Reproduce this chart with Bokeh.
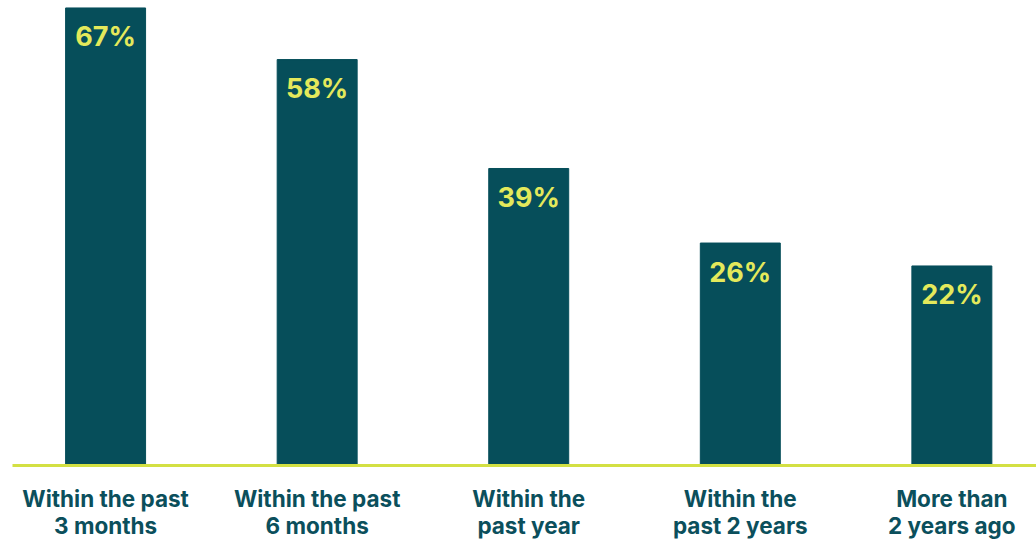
from bokeh.plotting import figure
from bokeh.models import ColumnDataSource, Range1d, FixedTicker
from bokeh.core.properties import value
from bokeh.embed import file_html
from bokeh.resources import INLINE

categories = ["Within the past\n3 months", "Within the past\n6 months", "Within the\npast year",
              "Within the\npast 2 years", "More than\n2 years ago"]
values = [67, 58, 39, 26, 22]
labels = ["67%", "58%", "39%", "26%", "22%"]

BAR = "#064E5A"
YELLOW = "#E4E95B"
LINE = "#D3E043"
TEXT = "#0B4F5C"
FONT = "Inter"

xs = list(range(len(categories)))
base = -12.8
src = ColumnDataSource(dict(x=xs, top=values, label=labels))

p = figure(width=1036, height=542, output_backend="svg", toolbar_location=None,
           x_range=Range1d(-0.44, 4.40), y_range=Range1d(base, 68.3),
           min_border_left=12, min_border_right=0, min_border_top=0, min_border_bottom=77)
p.background_fill_color = "white"
p.border_fill_color = "white"
p.outline_line_color = None
p.grid.grid_line_color = None
p.yaxis.visible = False

p.vbar(x="x", top="top", bottom=base, width=0.378, color=BAR, source=src)
p.text(x="x", y="top", text="label", source=src, text_align="center", text_baseline="middle",
       y_offset=29, text_font=value(FONT), text_font_style="bold", text_font_size="27px",
       text_color=YELLOW)

ax = p.xaxis[0]
ax.ticker = FixedTicker(ticks=xs)
ax.major_label_overrides = {i: c for i, c in enumerate(categories)}
ax.major_tick_line_color = None
ax.major_tick_out = 0
ax.major_tick_in = 0
ax.minor_tick_line_color = None
ax.minor_tick_out = 0
ax.axis_line_color = LINE
ax.axis_line_width = 3
ax.major_label_standoff = 19
ax.major_label_text_font = FONT
ax.major_label_text_font_style = "bold"
ax.major_label_text_font_size = "22.5px"
ax.major_label_text_color = TEXT
ax.major_label_text_line_height = 1.0
ax.major_label_text_baseline = "hanging"

open("out.html", "w").write(file_html(p, INLINE))
